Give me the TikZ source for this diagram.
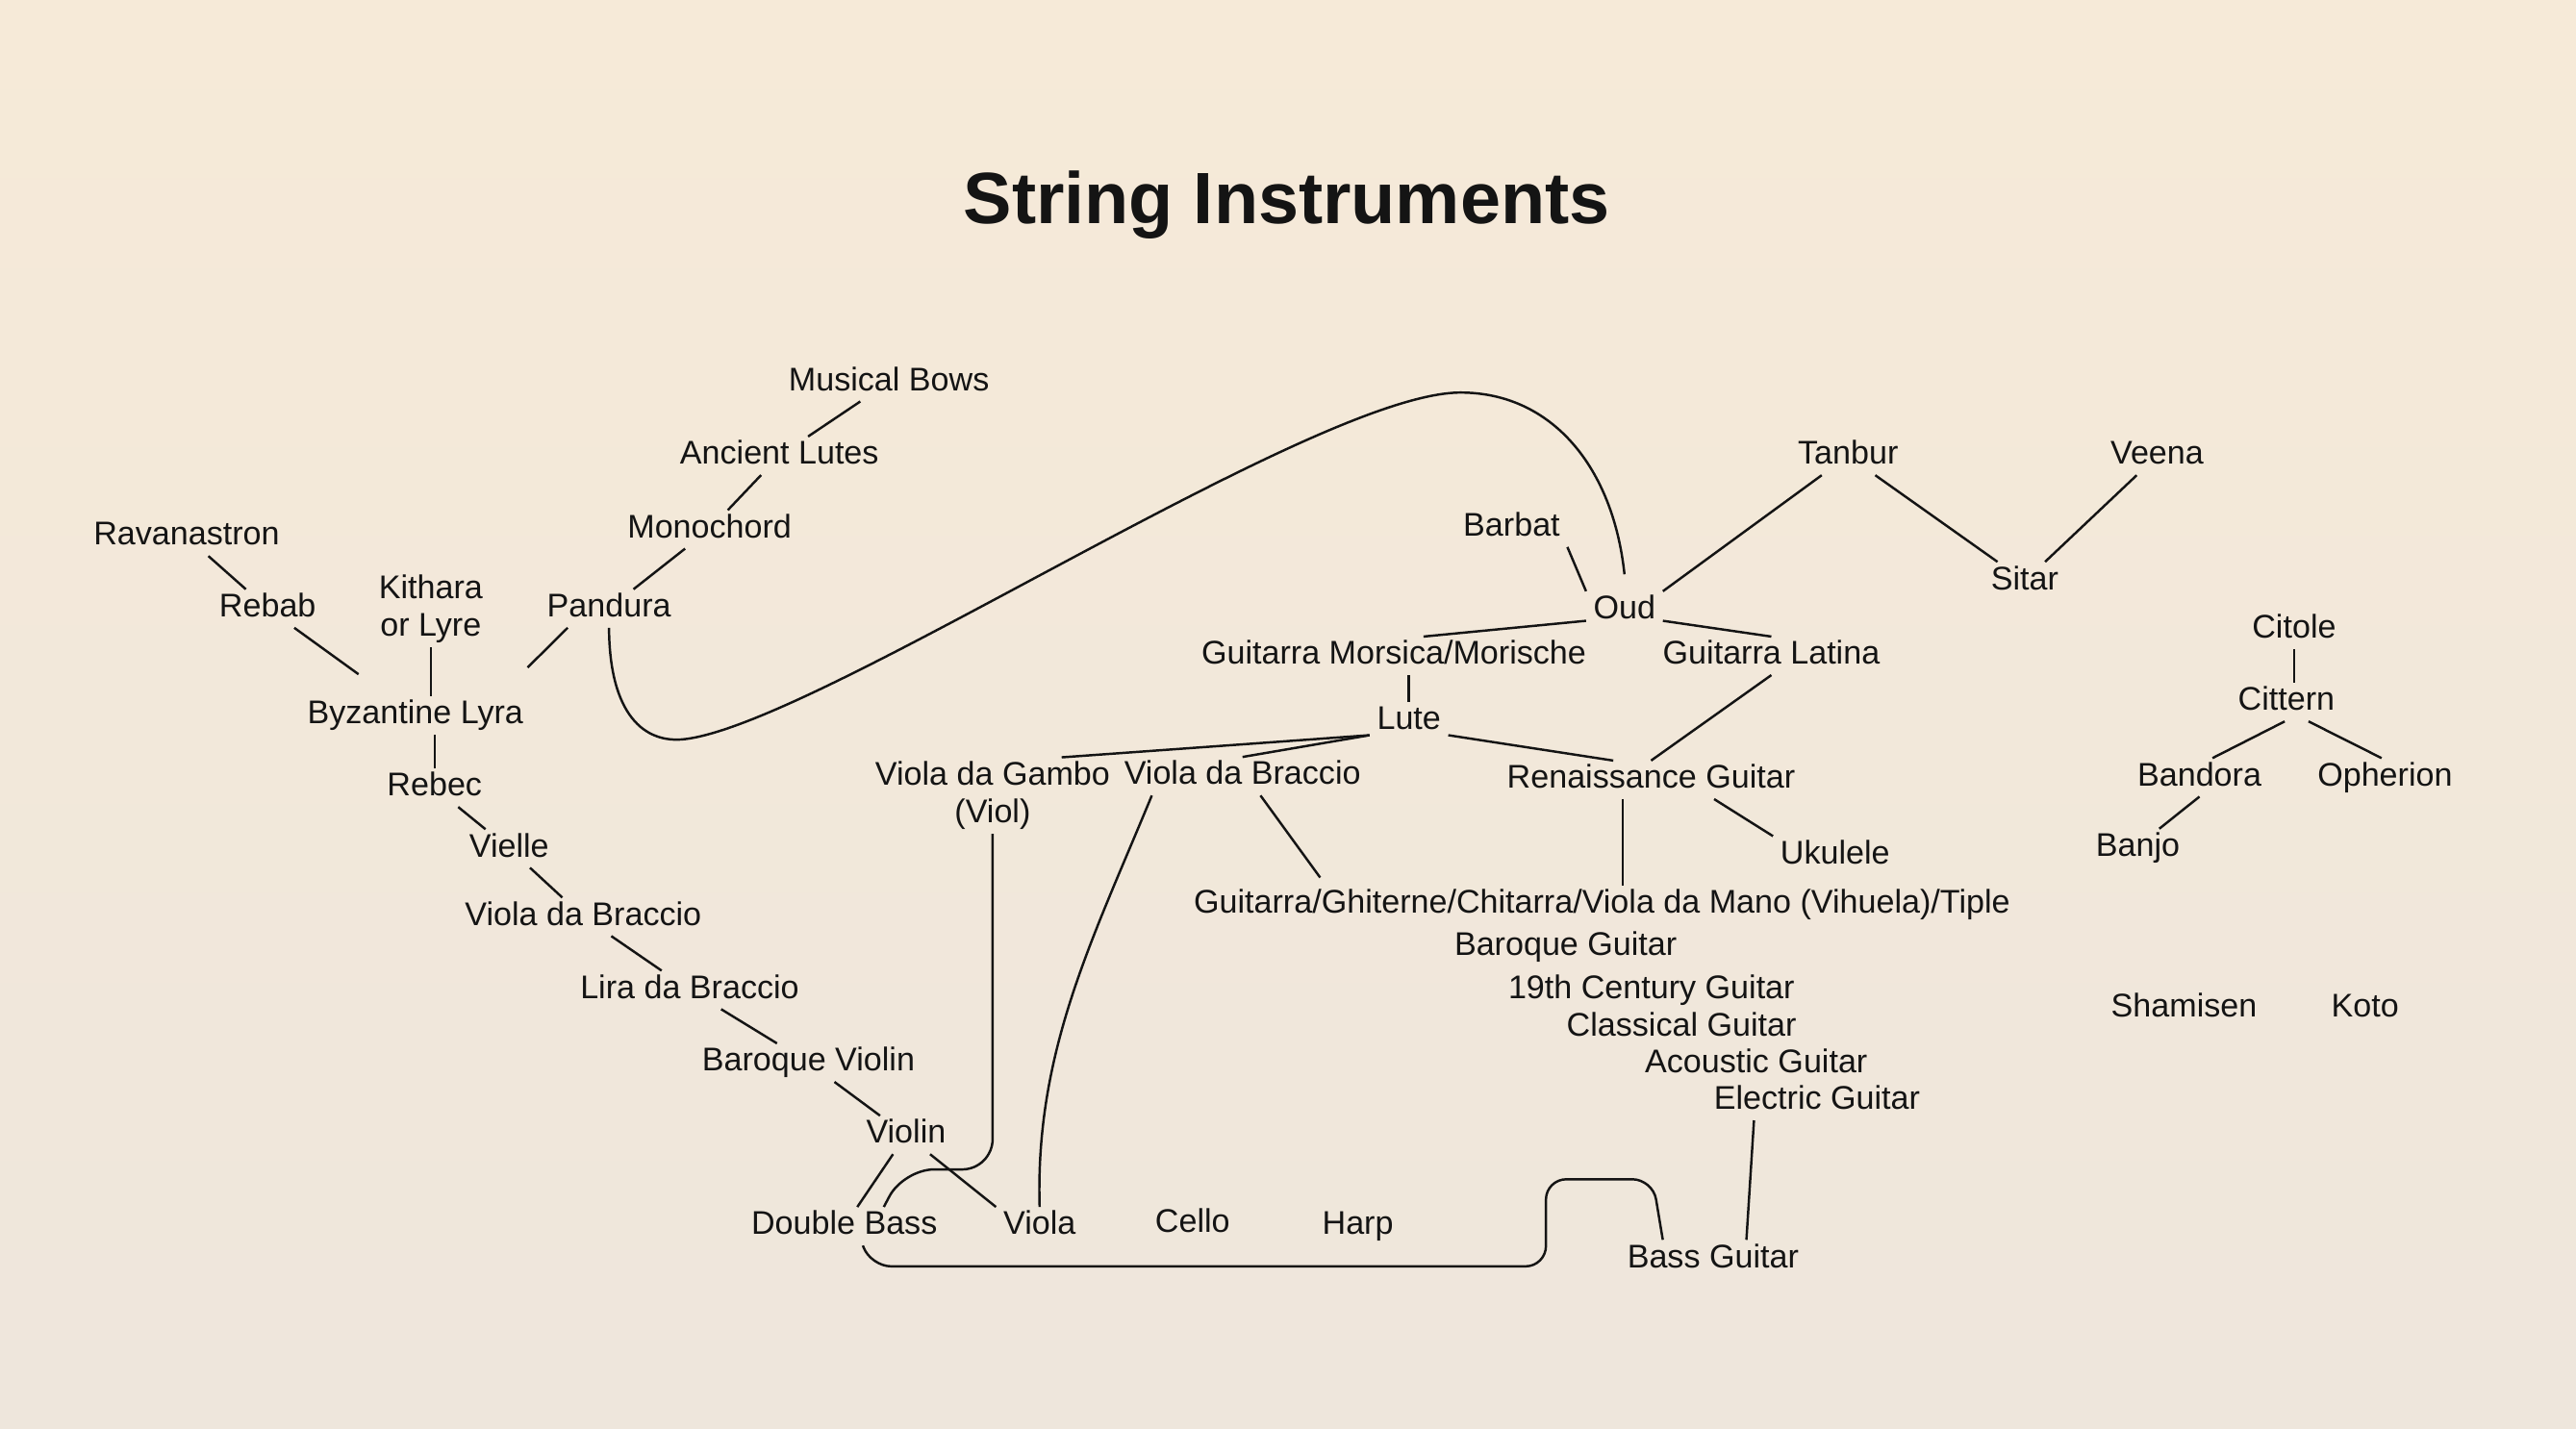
\documentclass[tikz,border=0pt]{standalone}
\usepackage{fontspec}
\setmainfont{Liberation Sans}
\definecolor{bgtop}{HTML}{F6EAD8}
\definecolor{bgbot}{HTML}{EEE6DC}
\definecolor{ink}{HTML}{141414}

\begin{document}
\begin{tikzpicture}[x=0.0170791cm,y=-0.0170791cm,
  inst/.style={font=\fontsize{9.7}{11.2}\selectfont, text=ink, inner xsep=2pt, inner ysep=1pt, text height=7pt, text depth=2pt},
  inst2/.style={font=\fontsize{9.7}{11.2}\selectfont, text=ink, inner xsep=2pt, inner ysep=1pt, align=center},
  link/.style={draw=ink, line width=0.7pt}]
\shade[top color=bgtop, bottom color=bgbot] (0,0) rectangle (1568,870);
\useasboundingbox (0,0) rectangle (1568,870);

\node[font=\fontsize{21.5}{26}\selectfont\bfseries, text=ink, anchor=base] (title) at (783.2,136) {String Instruments};

% bowed branch
\node[inst] (bows) at (541.1,232.7) {Musical Bows};
\node[inst] (lutes) at (474.4,277.5) {Ancient Lutes};
\node[inst] (mono) at (431.9,322.3) {Monochord};
\node[inst] (ravan) at (113.6,326.8) {Ravanastron};
\node[inst] (rebab) at (162.9,370.5) {Rebab};
\node[inst2] (kith) at (262.2,370.8) {Kithara\\or Lyre};
\node[inst] (pandura) at (370.7,370.5) {Pandura};
\node[inst] (byz) at (252.8,435.5) {Byzantine Lyra};
\node[inst] (rebec) at (264.5,479.6) {Rebec};
\node[inst] (vielle) at (309.9,516.6) {Vielle};
\node[inst] (vdb1) at (355,558.2) {Viola da Braccio};
\node[inst] (lira) at (419.8,602.7) {Lira da Braccio};
\node[inst] (bviolin) at (492.1,647) {Baroque Violin};
\node[inst] (violin) at (551.5,691) {Violin};
\node[inst] (dbass) at (513.9,746.6) {Double Bass};
\node[inst] (viola) at (632.8,746.6) {Viola};
\node[inst] (cello) at (725.9,745) {Cello};
\node[inst] (harp) at (826.5,746.6) {Harp};

% plucked branch
\node[inst] (barbat) at (920.1,321.3) {Barbat};
\node[inst] (oud) at (988.8,371.7) {Oud};
\node[inst] (tanbur) at (1124.9,277.6) {Tanbur};
\node[inst] (veena) at (1313,277.6) {Veena};
\node[inst] (sitar) at (1232.4,353.8) {Sitar};
\node[inst] (morsica) at (848.4,399.3) {Guitarra Morsica/Morische};
\node[inst] (latina) at (1078.2,399.3) {Guitarra Latina};
\node[inst] (lute) at (857.6,438.9) {Lute};
\node[inst2] (gambo) at (604.2,484.4) {Viola da Gambo\\(Viol)};
\node[inst] (vdb2) at (756.3,472.6) {Viola da Braccio};
\node[inst] (ren) at (1005,474.8) {Renaissance Guitar};
\node[inst] (uke) at (1117,520.8) {Ukulele};
\node[inst] (ghit) at (975.1,551) {Guitarra/Ghiterne/Chitarra/Viola da Mano (Vihuela)/Tiple};
\node[inst] (baroqueg) at (953,576.4) {Baroque Guitar};
\node[inst] (cent19) at (1005.2,603.1) {19th Century Guitar};
\node[inst] (classical) at (1023.5,625.5) {Classical Guitar};
\node[inst] (acoustic) at (1069,648) {Acoustic Guitar};
\node[inst] (electric) at (1106,670.4) {Electric Guitar};
\node[inst] (bassg) at (1042.7,766.6) {Bass Guitar};

% citterns and others
\node[inst] (citole) at (1396.4,383.5) {Citole};
\node[inst] (cittern) at (1391.7,427.5) {Cittern};
\node[inst] (bandora) at (1338.8,473.3) {Bandora};
\node[inst] (opherion) at (1451.7,473.3) {Opherion};
\node[inst] (banjo) at (1301.3,516.3) {Banjo};
\node[inst] (shamisen) at (1329.4,613.8) {Shamisen};
\node[inst] (koto) at (1439.6,613.8) {Koto};

\draw[link] (bows) -- (lutes);
\draw[link] (lutes) -- (mono);
\draw[link] (mono) -- (pandura);
\draw[link] (ravan) -- (rebab);
\draw[link, shorten >=11pt] (rebab) -- (byz);
\draw[link] (kith.south) -- (kith.south |- byz.north);
\draw[link, shorten >=12pt] (pandura.-155) -- (byz.13);
\draw[link] (rebec.north |- byz.south) -- (rebec.north);
\draw[link] (rebec) -- (vielle);
\draw[link] (vielle) -- (vdb1);
\draw[link] (vdb1) -- (lira);
\draw[link] (lira) -- (bviolin);
\draw[link] (bviolin) -- (violin);
\draw[link] (violin) -- (dbass);
\draw[link] (violin) -- (viola.north west);

\draw[link] (barbat.south east) -- (oud.north west);
\draw[link] (tanbur) -- (oud.north east);
\draw[link] (tanbur) -- (sitar);
\draw[link] (veena) -- (sitar);
\draw[link] (oud.195) -- (morsica.33);
\draw[link] (oud.-15) -- (latina.north);
\draw[link] (lute.north |- morsica.south) -- (lute.north);
\draw[link] (lute.200) -- (gambo.29);
\draw[link] (lute.200) -- (vdb2.north);
\draw[link] (lute.-20) -- (ren.153);
\draw[link] (latina.south) -- (ren.north);
\draw[link] (ren.-17) -- (uke.north west);
\draw[link] (ren.-146) -- (ren.-146 |- ghit.north);
\draw[link, shorten >=3pt] (vdb2.-47) -- (ghit.176);
\draw[link] (electric.-163) -- (bassg.30);

\draw[link] (citole.south) -- (citole.south |- cittern.north);
\draw[link] (cittern.-95) -- (bandora.56);
\draw[link] (cittern.-41) -- (opherion.100);
\draw[link] (bandora.south) -- (banjo.42);

% long curves
\draw[link] (pandura.south) .. controls (371,435) and (392,453) .. (417,450)
  .. controls (500,440) and (800,239) .. (889,239)
  .. controls (945,239) and (982,285) .. ([yshift=5pt]oud.north);
\draw[link] (vdb2.-168) .. controls (665,572) and (630,640) .. (viola.north);
\draw[link, rounded corners=9pt] (gambo.south) -- (604.2,712) -- (550,712) -- (dbass.26);
\draw[link, rounded corners=6pt] (dbass.-46) -- (530,771) -- (941,771) -- (941,718) -- (1006,718) -- (bassg.159);
\end{tikzpicture}
\end{document}
